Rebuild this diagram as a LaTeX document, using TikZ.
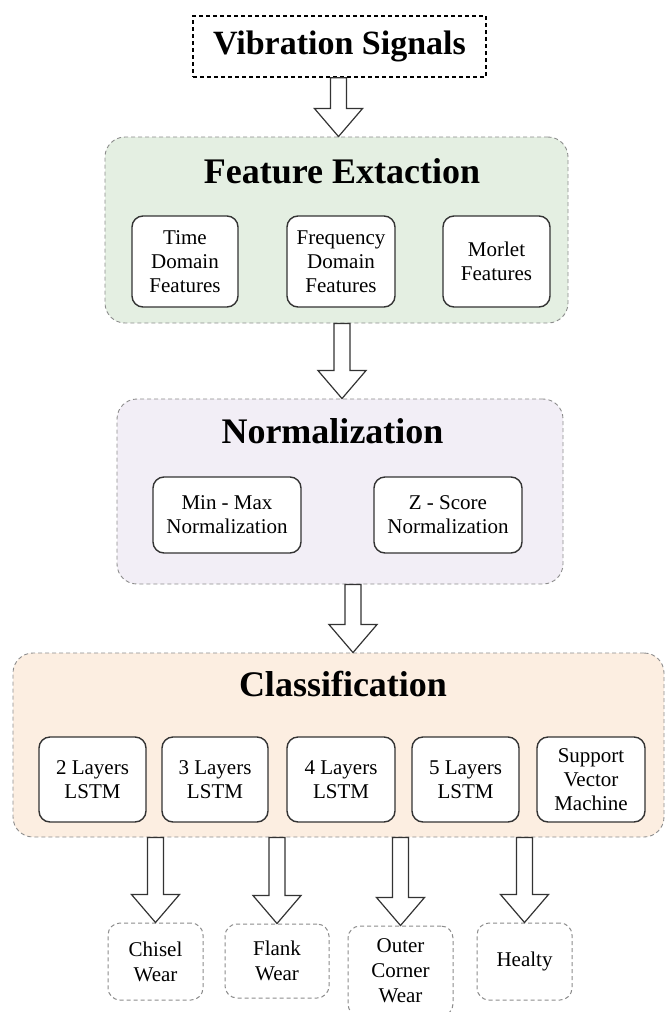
\documentclass[tikz,border=0pt]{standalone}
\usepackage{fontspec}
\setmainfont{Liberation Serif}
\usetikzlibrary{calc}
\definecolor{fegreen}{HTML}{E4EFE2}
\definecolor{nmlav}{HTML}{F2EEF6}
\definecolor{clpeach}{HTML}{FCEEE1}
\definecolor{dashgray}{HTML}{8C8C8C}
\definecolor{boxgray}{HTML}{333333}
\newcommand\blockarrow[3]{%
  \draw[blockarr] let \p1=(#1), \p2=(#2.south), \p3=(#3.north) in
   (\x1-8pt,\y2) -- (\x1-8pt,\y3+28pt) -- (\x1-24pt,\y3+28pt) -- (\x1,\y3)
   -- (\x1+24pt,\y3+28pt) -- (\x1+8pt,\y3+28pt) -- (\x1+8pt,\y2) -- cycle;}
\begin{document}
\begin{tikzpicture}[x=1pt,y=-1pt,
  stage/.style={draw=dashgray, dash pattern=on 4pt off 3pt, line width=0.9pt,
    rounded corners=20pt, inner sep=0pt},
  stitle/.style={font=\bfseries\fontsize{36}{40}\selectfont, anchor=base, inner sep=0pt},
  inbox/.style={draw=boxgray, line width=1.4pt, fill=white, rounded corners=11pt,
    align=center, inner sep=0pt, font=\fontsize{21}{24}\selectfont},
  outbox/.style={draw=dashgray, dash pattern=on 4pt off 3pt, line width=1pt,
    rounded corners=12pt, fill=white, align=center, inner sep=0pt,
    font=\fontsize{21}{25}\selectfont},
  blockarr/.style={draw=boxgray, line width=1.2pt, fill=white, line join=miter},
]
\useasboundingbox (0,0) rectangle (665,1012);

% top
\node[draw=black, dash pattern=on 4pt off 3pt, line width=1.4pt, inner sep=0pt,
  minimum width=293pt, minimum height=61pt,
  font=\bfseries\fontsize{34}{38}\selectfont] (vib) at (339.5,46.5) {Vibration Signals};

% feature extraction
\node[stage, fill=fegreen, minimum width=463pt, minimum height=186pt] (fe) at (336.5,230) {};
\node[stitle] (fetitle) at (342,183) {Feature Extaction};
\node[inbox, minimum width=106pt, minimum height=91pt] (time) at (185,261.5) {Time\\Domain\\Features};
\node[inbox, minimum width=108pt, minimum height=91pt] (freq) at (341,261.5) {Frequency\\Domain\\Features};
\node[inbox, minimum width=107pt, minimum height=91pt] (morlet) at (496.5,261.5) {Morlet\\Features};

% normalization
\node[stage, fill=nmlav, minimum width=446pt, minimum height=185pt] (norm) at (340,491.5) {};
\node[stitle] (normtitle) at (332.5,443) {Normalization};
\node[inbox, minimum width=148pt, minimum height=76pt] (minmax) at (227,515) {Min - Max\\Normalization};
\node[inbox, minimum width=148pt, minimum height=76pt] (zscore) at (448,515) {Z - Score\\Normalization};

% classification
\node[stage, fill=clpeach, minimum width=651pt, minimum height=184pt] (cls) at (338.5,745) {};
\node[stitle] (clstitle) at (343,696) {Classification};
\node[inbox, minimum width=107pt, minimum height=85pt] (l2) at (92.5,779.5) {2 Layers\\LSTM};
\node[inbox, minimum width=106pt, minimum height=85pt] (l3) at (215,779.5) {3 Layers\\LSTM};
\node[inbox, minimum width=108pt, minimum height=85pt] (l4) at (341,779.5) {4 Layers\\LSTM};
\node[inbox, minimum width=107pt, minimum height=85pt] (l5) at (465.5,779.5) {5 Layers\\LSTM};
\node[inbox, minimum width=108pt, minimum height=85pt] (svm) at (591,779.5) {Support\\Vector\\Machine};

% outputs
\node[outbox, minimum width=95pt, minimum height=77pt] (chisel) at (155.5,961.5) {Chisel\\Wear};
\node[outbox, minimum width=104pt, minimum height=74pt] (flank) at (277,961) {Flank\\Wear};
\node[outbox, minimum width=105pt, minimum height=90pt] (outer) at (400.5,971) {Outer\\Corner\\Wear};
\node[outbox, minimum width=95pt, minimum height=77pt] (healty) at (524.5,961.5) {Healty};

% arrows
\blockarrow{338.5,0}{vib}{fe}
\blockarrow{342,0}{fe}{norm}
\blockarrow{353,0}{norm}{cls}
\blockarrow{chisel.north}{cls}{chisel}
\blockarrow{flank.north}{cls}{flank}
\blockarrow{outer.north}{cls}{outer}
\blockarrow{healty.north}{cls}{healty}
\end{tikzpicture}
\end{document}
